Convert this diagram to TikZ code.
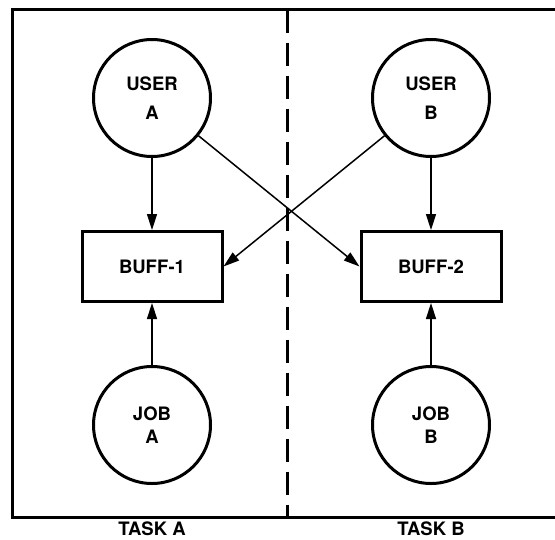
\documentclass[tikz,border=0pt]{standalone}
\usepackage{fontspec}
\setsansfont{TeX Gyre Heros}
\usetikzlibrary{arrows.meta}

\begin{document}
\begin{tikzpicture}[x=1pt,y=-1pt,
  font=\sffamily\bfseries\fontsize{18.5}{23}\selectfont,
  proc/.style={circle, draw, line width=3pt, minimum size=117pt, inner sep=0pt, align=center},
  buf/.style={rectangle, draw, line width=3pt, minimum width=140pt, minimum height=70pt},
  flow/.style={-{Triangle[length=16pt,width=10pt]}, line width=1.5pt}]
\useasboundingbox (0,0) rectangle (555,539);
\draw[line width=3pt] (555,9.5) -- (12.7,9.5) -- (12.7,517) -- (555,517);
\draw[line width=3pt, dash pattern=on 23pt off 10pt] (287,9.5) -- (287,517);
\foreach \ox/\tk/\nb in {0/A/1, 279/B/2}{
  \node[proc] (user\tk) at (\ox+152,98) {USER\\[6pt]\tk};
  \node[buf] (buff\nb) at (\ox+152,266.5) {BUFF-\nb};
  \node[proc] (job\tk) at (\ox+152,425) {JOB\\\tk};
  \node[inner sep=0pt] (task\tk) at (\ox+152,529) {TASK \tk};
  \draw[flow] (user\tk) -- (buff\nb);
  \draw[flow] (job\tk) -- (buff\nb);}
\draw[flow] (userA) -- (buff2.west);
\draw[flow] (userB) -- (buff1.east);
\end{tikzpicture}
\end{document}
